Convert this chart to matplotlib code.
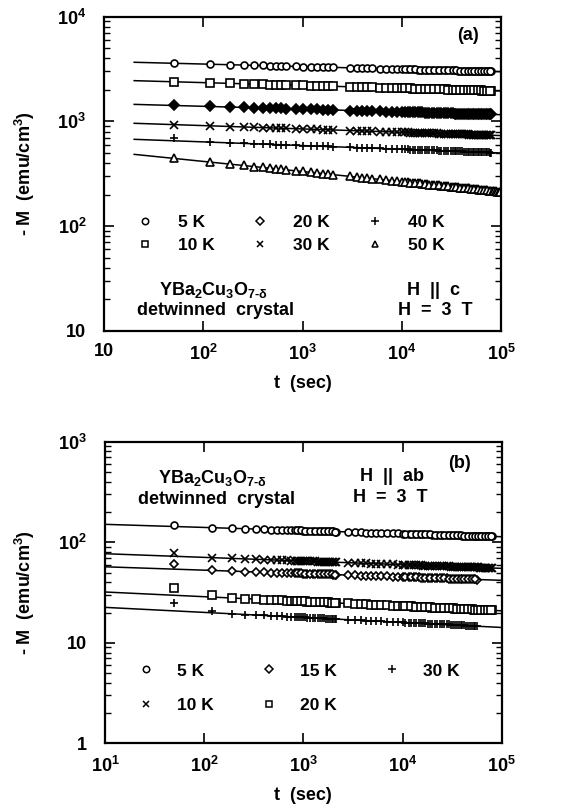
import matplotlib
matplotlib.use("Agg")
import matplotlib.pyplot as plt
from matplotlib.lines import Line2D
from matplotlib.ticker import FixedLocator, FixedFormatter, LogLocator, NullFormatter, NullLocator

# =========================
# 1. 数据
# =========================

# (a) H || c, 时间 (sec)
t_a = [50, 115, 185, 255, 325, 395, 465, 535, 605, 675, 850, 1000, 1200, 1400,
       1600, 1800, 2000, 3000, 3500, 4000, 4500, 5000, 6000, 7000, 8000, 9000,
       10000, 11500, 13000, 14500, 16000, 18000, 20000, 22500, 25000, 28000,
       31000, 34000, 37000, 40000, 44000, 48000, 52000, 56000, 60000, 65000,
       70000, 75000, 80000]
# 长时间段的密集测量点
t_a_fill = [10700, 12200, 13700, 15200, 17000, 19000, 21200, 23700, 26500,
            29500, 32500, 35500, 38500, 42000, 46000, 50000, 54000, 58000,
            62500, 67500, 72500, 77500]
t_a_50K_tail = [83000, 86000, 89000, 92000, 95000, 98000]

M_a_5K = [3590, 3520, 3480, 3450, 3430, 3420, 3400, 3390, 3380, 3370, 3350, 3340,
          3330, 3310, 3300, 3290, 3280, 3250, 3240, 3230, 3220, 3210, 3200, 3190,
          3180, 3170, 3160, 3150, 3140, 3130, 3120, 3110, 3110, 3100, 3090, 3080,
          3070, 3070, 3060, 3050, 3050, 3040, 3030, 3030, 3020, 3020, 3010, 3010, 3000]
M_a_10K = [2390, 2340, 2310, 2290, 2270, 2260, 2250, 2240, 2240, 2230, 2220, 2210,
           2200, 2190, 2180, 2170, 2170, 2140, 2130, 2130, 2120, 2110, 2100, 2090,
           2090, 2080, 2070, 2070, 2060, 2050, 2050, 2040, 2040, 2030, 2020, 2020,
           2010, 2010, 2000, 2000, 1990, 1990, 1990, 1980, 1980, 1970, 1970, 1970, 1960]
M_a_20K = [1420, 1390, 1370, 1360, 1350, 1340, 1340, 1330, 1330, 1320, 1320, 1310,
           1300, 1300, 1290, 1290, 1290, 1270, 1270, 1260, 1260, 1260, 1250, 1240,
           1240, 1240, 1230, 1230, 1220, 1220, 1220, 1210, 1210, 1210, 1200, 1200,
           1200, 1190, 1190, 1190, 1180, 1180, 1180, 1180, 1170, 1170, 1170, 1170, 1170]
M_a_30K = [932, 907, 894, 885, 878, 873, 868, 864, 861, 858, 852, 847, 843, 839,
           835, 832, 829, 819, 815, 811, 808, 805, 801, 797, 794, 791, 788, 785,
           781, 779, 776, 774, 771, 768, 766, 763, 760, 758, 756, 754, 752, 750,
           748, 746, 745, 743, 741, 739, 738]
M_a_40K = [695, 635, 624, 617, 612, 608, 604, 601, 599, 597, 592, 588, 585, 582,
           579, 577, 574, 566, 563, 561, 558, 556, 553, 550, 547, 545, 543, 540,
           538, 536, 534, 532, 530, 528, 526, 524, 522, 520, 519, 517, 516, 514,
           513, 511, 510, 509, 507, 506, 505]
M_a_50K = [444, 410, 392, 380, 371, 364, 358, 353, 349, 346, 338, 333, 327, 322,
           318, 314, 311, 299, 295, 291, 288, 285, 280, 276, 272, 269, 266, 263,
           260, 257, 255, 252, 249, 246, 244, 241, 239, 237, 235, 233, 231, 229,
           227, 226, 224, 222, 221, 219, 218]
M_a_50K_tail = [217, 216, 215, 214, 213, 212]

M_a_5K_fill = [3155, 3145, 3135, 3125, 3115, 3110, 3105, 3095, 3085, 3075, 3070,
               3065, 3055, 3050, 3045, 3035, 3030, 3025, 3020, 3015, 3010, 3005]
M_a_10K_fill = [2070, 2065, 2055, 2050, 2045, 2040, 2035, 2025, 2020, 2015, 2010,
                2005, 2000, 1995, 1990, 1990, 1985, 1980, 1975, 1970, 1970, 1965]
M_a_20K_fill = [1230, 1225, 1220, 1220, 1215, 1210, 1210, 1205, 1200, 1200, 1195,
                1190, 1190, 1185, 1180, 1180, 1180, 1175, 1170, 1170, 1170, 1170]
M_a_30K_fill = [786, 783, 780, 777, 775, 772, 769, 767, 764, 761, 759, 757, 755,
                753, 751, 749, 747, 745, 744, 742, 740, 738]
M_a_40K_fill = [541, 539, 537, 535, 533, 531, 529, 527, 525, 523, 521, 519, 518,
                516, 515, 513, 512, 510, 509, 508, 506, 505]
M_a_50K_fill = [264, 261, 258, 256, 253, 250, 247, 245, 242, 240, 238, 236, 234,
                232, 230, 228, 226, 225, 223, 221, 220, 218]

# 拟合直线端点 (t = 20 与 1e5)
fit_a_t = [20, 100000]
fit_a_start = [3670, 2450, 1455, 960, 675, 485]
fit_a_end = [2985, 1950, 1160, 733, 500, 213]

# (b) H || ab
t_b = [50, 120, 190, 260, 330, 400, 470, 540, 610, 680, 750, 820, 900, 1000,
       1100, 1250, 1400, 1550, 1700, 1850, 2000, 2150, 2800, 3300, 3800, 4300,
       4800, 5400, 6000, 7000, 8000, 9000, 10000, 11500, 13000, 14500, 16000,
       18000, 20000, 22500, 25000, 28000, 31000, 34000, 37000, 40000, 44000,
       48000, 52000, 56000, 60000, 65000, 70000, 75000, 80000]
t_b_fill = [860, 950, 1050, 1175, 1325, 1475, 1625, 1775, 1925, 2075,
            10700, 12200, 13700, 15200, 17000, 19000, 21200, 23700, 26500,
            29500, 32500, 35500, 38500, 42000, 46000, 50000, 54000, 58000,
            62500, 67500, 72500, 77500]

M_b_5K = [150, 139.6, 137.6, 136.3, 135.3, 134.5, 133.9, 133.3, 132.8, 132.3,
          131.9, 131.6, 131.2, 130.8, 130.4, 129.9, 129.4, 129.0, 128.7, 128.3,
          128.0, 127.7, 126.7, 126.0, 125.5, 125.0, 124.6, 124.2, 123.8, 123.2,
          122.7, 122.2, 121.8, 121.3, 120.8, 120.4, 120.1, 119.6, 119.3, 118.8,
          118.4, 118.0, 117.7, 117.3, 117.0, 116.7, 116.4, 116.1, 115.8, 115.5,
          115.3, 115.0, 114.7, 114.5, 114.3]
M_b_10K = [77.5, 70.2, 69.1, 68.3, 67.7, 67.2, 66.8, 66.5, 66.2, 65.9, 65.7, 65.5,
           65.3, 65.0, 64.8, 64.5, 64.2, 64.0, 63.8, 63.6, 63.4, 63.2, 62.6, 62.2,
           61.9, 61.6, 61.4, 61.1, 60.9, 60.5, 60.3, 60.0, 59.8, 59.5, 59.2, 59.0,
           58.7, 58.5, 58.3, 58.0, 57.8, 57.6, 57.3, 57.2, 57.0, 56.8, 56.6, 56.4,
           56.3, 56.1, 56.0, 55.8, 55.7, 55.5, 55.4]
M_b_15K = [60.5, 52.4, 51.6, 51.1, 50.6, 50.3, 50.0, 49.8, 49.6, 49.4, 49.3, 49.1,
           49.0, 48.8, 48.6, 48.4, 48.2, 48.1, 47.9, 47.8, 47.7, 47.5, 47.1, 46.9,
           46.6, 46.4, 46.3, 46.1, 45.9, 45.7, 45.5, 45.3, 45.1, 44.9, 44.7, 44.6,
           44.4, 44.2, 44.1, 43.9, 43.8, 43.6, 43.4, 43.3, 43.2, 43.1, 42.9, 42.8,
           42.7, 42.6]
M_b_20K = [35.0, 29.8, 27.9, 27.5, 27.2, 26.9, 26.7, 26.6, 26.4, 26.3, 26.1, 26.0,
           25.9, 25.8, 25.7, 25.5, 25.4, 25.3, 25.2, 25.1, 25.0, 24.9, 24.6, 24.4,
           24.2, 24.1, 24.0, 23.8, 23.7, 23.6, 23.4, 23.3, 23.2, 23.0, 22.9, 22.8,
           22.7, 22.5, 22.4, 22.3, 22.2, 22.1, 22.0, 21.9, 21.8, 21.7, 21.6, 21.5,
           21.4, 21.4, 21.3, 21.2, 21.1, 21.1, 21.0]
M_b_30K = [24.7, 20.6, 19.4, 19.1, 18.9, 18.7, 18.6, 18.4, 18.3, 18.2, 18.1, 18.1,
           18.0, 17.9, 17.8, 17.7, 17.6, 17.5, 17.4, 17.3, 17.3, 17.2, 17.0, 16.9,
           16.7, 16.6, 16.5, 16.4, 16.4, 16.2, 16.1, 16.0, 16.0, 15.8, 15.7, 15.7,
           15.6, 15.5, 15.4, 15.3, 15.2, 15.2, 15.1, 15.0, 14.9, 14.9, 14.8, 14.8,
           14.7, 14.6]

M_b_5K_fill = [131.4, 131.0, 130.6, 130.2, 129.7, 129.2, 128.9, 128.5, 128.2, 127.9,
               121.6, 121.1, 120.6, 120.3, 119.9, 119.5, 119.1, 118.6, 118.2, 117.9,
               117.5, 117.2, 116.9, 116.6, 116.3, 116.0, 115.7, 115.4, 115.2, 114.9,
               114.6, 114.4]
M_b_10K_fill = [65.4, 65.2, 64.9, 64.7, 64.4, 64.1, 63.9, 63.7, 63.5, 63.3,
                59.7, 59.4, 59.1, 58.9, 58.6, 58.4, 58.2, 57.9, 57.7, 57.5,
                57.3, 57.1, 56.9, 56.7, 56.5, 56.4, 56.2, 56.1, 55.9, 55.8,
                55.6, 55.5]
M_b_15K_fill = [49.1, 48.9, 48.7, 48.5, 48.3, 48.2, 48.0, 47.9, 47.8, 47.6,
                45.0, 44.8, 44.7, 44.5, 44.3, 44.2, 44.0, 43.9, 43.7, 43.5,
                43.4, 43.3, 43.2, 43.0, 42.9, 42.8, 42.7]
M_b_20K_fill = [26.0, 25.9, 25.8, 25.6, 25.5, 25.4, 25.3, 25.2, 25.1, 25.0,
                23.1, 23.0, 22.9, 22.8, 22.6, 22.5, 22.4, 22.3, 22.2, 22.1,
                22.0, 21.9, 21.8, 21.7, 21.6, 21.5, 21.4, 21.4, 21.3, 21.2,
                21.1, 21.1]
M_b_30K_fill = [18.1, 18.0, 17.9, 17.8, 17.7, 17.6, 17.5, 17.4, 17.3, 17.3,
                15.9, 15.8, 15.7, 15.7, 15.6, 15.5, 15.4, 15.3, 15.2, 15.2,
                15.1, 15.0, 14.9, 14.9, 14.8, 14.8, 14.7]

fit_b_t = [10, 100000]
fit_b_start = [150.7, 76.9, 57.0, 32.0, 22.5]
fit_b_end = [113.5, 55.0, 41.8, 20.8, 14.2]

# 坐标轴刻度与标签
xticks = [10, 100, 1000, 10000, 100000]
xlabels_a = ["10", "$10^{2}$", "$10^{3}$", "$10^{4}$", "$10^{5}$"]
xlabels_b = ["$10^{1}$", "$10^{2}$", "$10^{3}$", "$10^{4}$", "$10^{5}$"]
yticks_a = [10, 100, 1000, 10000]
ylabels_a = ["10", "$10^{2}$", "$10^{3}$", "$10^{4}$"]
yticks_b = [1, 10, 100, 1000]
ylabels_b = ["1", "10", "$10^{2}$", "$10^{3}$"]

labels_a = ["5 K", "10 K", "20 K", "30 K", "40 K", "50 K"]
labels_b = ["5 K", "10 K", "15 K", "20 K", "30 K"]

# =========================
# 2. 样式
# =========================
plt.rcParams['font.family'] = ['Liberation Sans', 'DejaVu Sans']
plt.rcParams['font.weight'] = 'bold'
plt.rcParams['font.size'] = 12
plt.rcParams['mathtext.fontset'] = 'custom'
plt.rcParams['mathtext.rm'] = 'Liberation Sans:bold'
plt.rcParams['mathtext.bf'] = 'Liberation Sans:bold'
plt.rcParams['mathtext.it'] = 'Liberation Sans:bold'
plt.rcParams['mathtext.default'] = 'bf'

# marker, size, facecolor
style_a = [("o", 5.0, "white"), ("s", 5.3, "white"), ("D", 4.6, "black"),
           ("x", 5.2, "none"), ("+", 5.6, "none"), ("^", 5.4, "white")]
style_b = [("o", 5.0, "white"), ("x", 5.2, "none"), ("D", 4.0, "white"),
           ("s", 5.3, "white"), ("+", 5.6, "none")]
legend_style_a = [("o", 4.6, "white"), ("s", 5.0, "white"), ("D", 3.6, "white"),
                  ("x", 4.8, "none"), ("+", 6.0, "none"), ("^", 4.6, "white")]
legend_style_b = [("o", 4.6, "white"), ("x", 4.8, "none"), ("D", 3.6, "white"),
                  ("s", 5.0, "white"), ("+", 6.0, "none")]


def setup_axes(ax, ylim, yticks, ylabels, xlabels):
    ax.set_xscale("log")
    ax.set_yscale("log")
    ax.set_xlim(10, 1e5)
    ax.set_ylim(*ylim)
    ax.xaxis.set_major_locator(FixedLocator(xticks))
    ax.xaxis.set_major_formatter(FixedFormatter(xlabels))
    ax.xaxis.set_minor_locator(NullLocator())
    ax.yaxis.set_major_locator(FixedLocator(yticks))
    ax.yaxis.set_major_formatter(FixedFormatter(ylabels))
    ax.yaxis.set_minor_locator(LogLocator(base=10, subs=range(2, 10)))
    ax.yaxis.set_minor_formatter(NullFormatter())
    ax.tick_params(which="both", direction="in", right=True, top=True,
                   labelsize=13)
    ax.tick_params(which="major", length=7, width=1.2)
    ax.tick_params(which="minor", length=4, width=1.0)
    ax.tick_params(axis="y", pad=13)
    ax.tick_params(axis="x", pad=9)
    for s in ax.spines.values():
        s.set_linewidth(1.6)
    ax.set_xlabel("t  (sec)", fontsize=13, fontweight="bold")
    ax.set_ylabel("- M  (emu/cm$^{3}$)", fontsize=13, fontweight="bold")


def series(ax, t, M, st):
    m, ms, fc = st
    ax.plot(t, M, ls="none", marker=m, ms=ms, mfc=fc, mec="black", mew=1.2,
            color="black")


def proxies(styles):
    return [Line2D([], [], ls="none", marker=m, ms=ms, mfc=fc, mec="black",
                   mew=1.1, color="black") for m, ms, fc in styles]


fig = plt.figure(figsize=(5.71, 8.09), dpi=100)

# =========================
# 3. (a) H || c
# =========================
ax1 = fig.add_axes([0.1827, 0.5909, 0.6947, 0.3885])
data_a = [M_a_5K, M_a_10K, M_a_20K, M_a_30K, M_a_40K, M_a_50K]
fill_a = [M_a_5K_fill, M_a_10K_fill, M_a_20K_fill, M_a_30K_fill, M_a_40K_fill,
          M_a_50K_fill]
for i, M in enumerate(data_a):
    ax1.plot(fit_a_t, [fit_a_start[i], fit_a_end[i]], color="black", lw=1.1)
    series(ax1, t_a, M, style_a[i])
    series(ax1, t_a_fill, fill_a[i], style_a[i])
series(ax1, t_a_50K_tail, M_a_50K_tail, style_a[5])
setup_axes(ax1, (10, 1e4), yticks_a, ylabels_a, xlabels_a)
ax1.xaxis.set_label_coords(0.5, -0.14)
ax1.yaxis.set_label_coords(-0.17, 0.5)

ax1.legend(proxies(legend_style_a), labels_a, ncol=3, loc="upper left",
           bbox_to_anchor=(0.086, 0.368), frameon=False, fontsize=12.5,
           handlelength=0.8, handletextpad=1.5, columnspacing=2.2,
           labelspacing=0.45, borderpad=0, borderaxespad=0)

ax1.text(0.917, 0.939, "(a)", transform=ax1.transAxes, ha="center",
         va="center", fontsize=13)
ax1.text(0.275, 0.130, r"YBa$_{2}$Cu$_{3}$O$_{7\text{-}\delta}$",
         transform=ax1.transAxes, ha="center", va="center", fontsize=13)
ax1.text(0.28, 0.066, "detwinned  crystal", transform=ax1.transAxes,
         ha="center", va="center", fontsize=13)
ax1.text(0.829, 0.130, "H  ||  c", transform=ax1.transAxes, ha="center",
         va="center", fontsize=13)
ax1.text(0.835, 0.066, "H  =  3  T", transform=ax1.transAxes, ha="center",
         va="center", fontsize=13)

# =========================
# 4. (b) H || ab
# =========================
ax2 = fig.add_axes([0.1839, 0.0812, 0.6947, 0.3728])
data_b = [M_b_5K, M_b_10K, M_b_15K, M_b_20K, M_b_30K]
fill_b = [M_b_5K_fill, M_b_10K_fill, M_b_15K_fill, M_b_20K_fill, M_b_30K_fill]
for i, M in enumerate(data_b):
    ax2.plot(fit_b_t, [fit_b_start[i], fit_b_end[i]], color="black", lw=1.1)
    series(ax2, t_b[:len(M)], M, style_b[i])
    series(ax2, t_b_fill[:len(fill_b[i])], fill_b[i], style_b[i])
setup_axes(ax2, (1, 1e3), yticks_b, ylabels_b, xlabels_b)
ax2.xaxis.set_label_coords(0.5, -0.146)
ax2.yaxis.set_label_coords(-0.171, 0.5)

ax2.legend(proxies(legend_style_b), labels_b, ncol=3, loc="upper left",
           bbox_to_anchor=(0.086, 0.265), frameon=False, fontsize=12.5,
           handlelength=0.8, handletextpad=1.4, columnspacing=2.75,
           labelspacing=1.1, borderpad=0, borderaxespad=0)

ax2.text(0.894, 0.929, "(b)", transform=ax2.transAxes, ha="center",
         va="center", fontsize=13)
ax2.text(0.27, 0.880, r"YBa$_{2}$Cu$_{3}$O$_{7\text{-}\delta}$",
         transform=ax2.transAxes, ha="center", va="center", fontsize=13)
ax2.text(0.28, 0.807, "detwinned  crystal", transform=ax2.transAxes,
         ha="center", va="center", fontsize=13)
ax2.text(0.723, 0.886, "H  ||  ab", transform=ax2.transAxes, ha="center",
         va="center", fontsize=13)
ax2.text(0.72, 0.816, "H  =  3  T", transform=ax2.transAxes, ha="center",
         va="center", fontsize=13)

fig.savefig("out.png", dpi=100)
